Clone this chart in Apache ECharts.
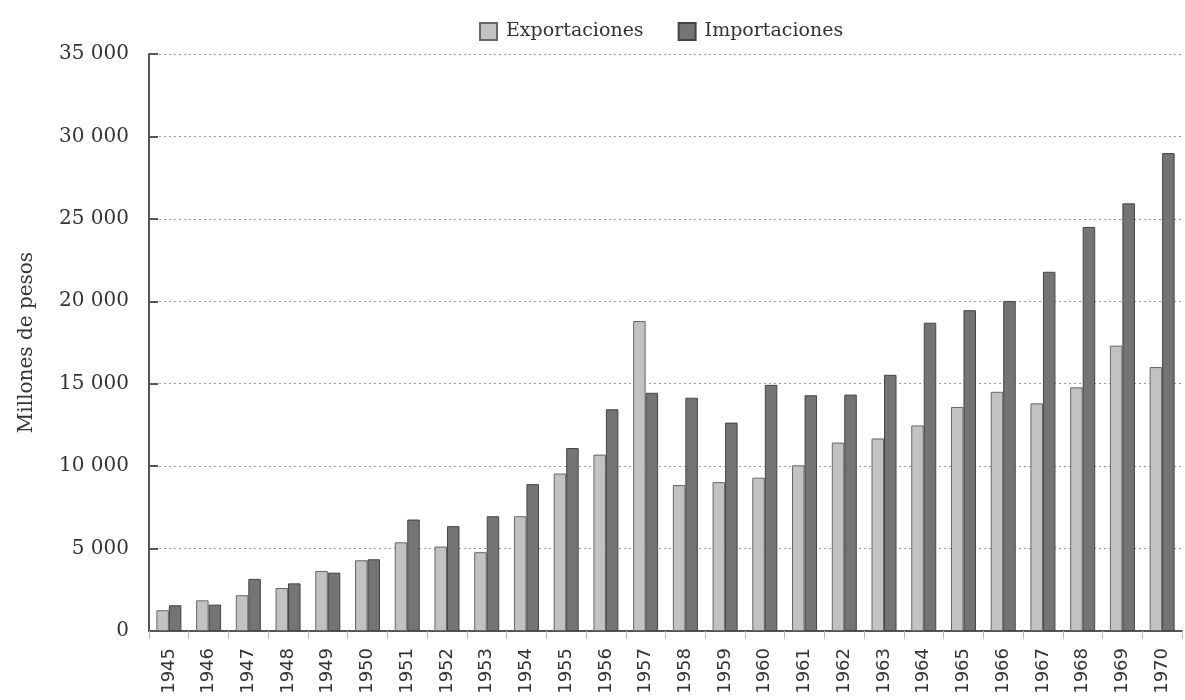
<!DOCTYPE html>
<html>
<head>
<meta charset="utf-8">
<script src="https://cdn.jsdelivr.net/npm/echarts@6/dist/echarts.min.js"></script>
<style>
  html, body { margin: 0; padding: 0; background: #fff; }
  #chart { width: 1185px; height: 700px; }
</style>
</head>
<body>
<div id="chart"></div>
<script>
const years = ['1945', '1946', '1947', '1948', '1949', '1950', '1951', '1952', '1953', '1954',
  '1955', '1956', '1957', '1958', '1959', '1960', '1961', '1962', '1963', '1964',
  '1965', '1966', '1967', '1968', '1969', '1970'];

// millones de pesos
const exportaciones = [1260, 1860, 2170, 2610, 3640, 4290, 5380, 5120, 4780, 6960,
  9550, 10700, 18800, 8850, 9030, 9300, 10050, 11430, 11680, 12470,
  13590, 14510, 13810, 14780, 17310, 16010];
const importaciones = [1560, 1600, 3160, 2890, 3540, 4350, 6760, 6360, 6960, 8910,
  11100, 13450, 14450, 14150, 12640, 14930, 14300, 14340, 15540, 18700,
  19460, 20020, 21790, 24510, 25940, 28990];

const yTicks = [0, 5000, 10000, 15000, 20000, 25000, 30000, 35000];

const serif = '"DejaVu Serif", "Liberation Serif", serif';
const sans = '"DejaVu Sans", sans-serif';

const fmt = v => {
  return String(v).replace(/\B(?=(\d{3})+(?!\d))/g, ' ');
};

const chart = echarts.init(document.getElementById('chart'));

chart.setOption({
  animation: false,
  grid: {
    left: 149,
    right: 3,
    top: 54,
    bottom: 69,
    containLabel: false
  },
  legend: {
    left: 474,
    top: 17,
    icon: 'rect',
    itemWidth: 17,
    itemHeight: 17,
    itemGap: 34,
    textStyle: {
      fontFamily: serif,
      fontSize: 19,
      color: '#333',
      padding: [0, 0, 0, 4]
    },
    data: ['Exportaciones', 'Importaciones']
  },
  xAxis: {
    type: 'category',
    data: years,
    axisLine: {
      lineStyle: { color: '#555', width: 2 }
    },
    axisTick: {
      show: true,
      interval: 0,
      length: 8,
      lineStyle: { color: '#bbb' }
    },
    axisLabel: {
      interval: 0,
      rotate: 90,
      margin: 17,
      fontFamily: sans,
      fontSize: 18,
      color: '#333'
    }
  },
  yAxis: {
    type: 'value',
    min: yTicks[0],
    max: yTicks[yTicks.length - 1],
    interval: 5000,
    name: 'Millones de pesos',
    nameLocation: 'middle',
    nameGap: 112,
    nameTextStyle: {
      fontFamily: serif,
      fontSize: 20,
      color: '#333'
    },
    axisLine: {
      show: true,
      lineStyle: { color: '#555', width: 2 }
    },
    axisTick: {
      show: true,
      inside: true,
      length: 9,
      lineStyle: { color: '#555', width: 2 }
    },
    axisLabel: {
      margin: 20,
      fontFamily: serif,
      fontSize: 20,
      color: '#333',
      formatter: fmt
    },
    splitLine: {
      show: true,
      lineStyle: { color: '#999', type: [2, 3], width: 1 }
    }
  },
  series: [
    {
      name: 'Exportaciones',
      type: 'bar',
      barWidth: 12.5,
      barGap: '0%',
      itemStyle: {
        color: '#c2c2c2',
        borderColor: '#666',
        borderWidth: 1
      },
      data: exportaciones
    },
    {
      name: 'Importaciones',
      type: 'bar',
      barWidth: 12.5,
      barGap: '0%',
      itemStyle: {
        color: '#747474',
        borderColor: '#444',
        borderWidth: 1
      },
      data: importaciones
    }
  ]
});
</script>
</body>
</html>
